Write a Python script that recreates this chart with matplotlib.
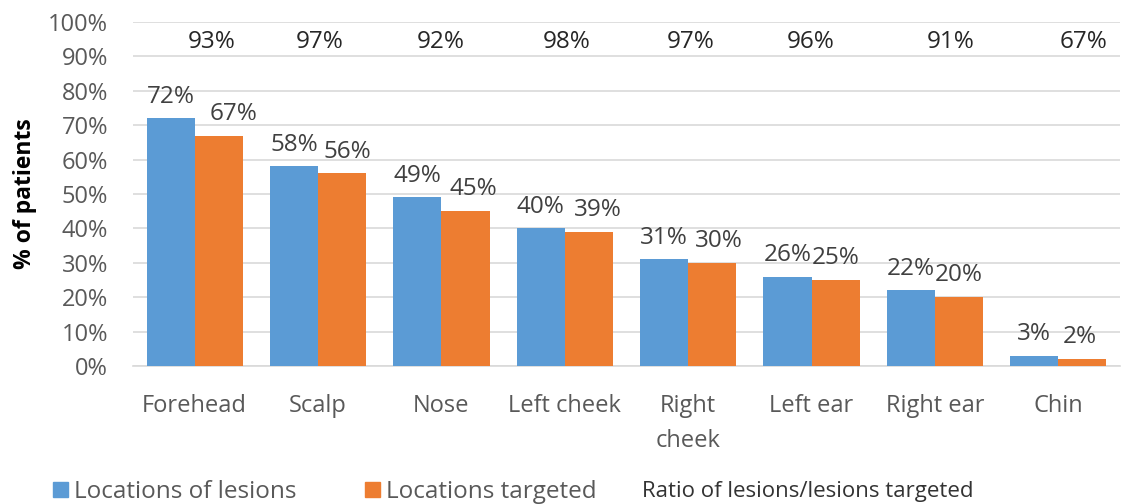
import matplotlib
matplotlib.use("Agg")
import matplotlib.pyplot as plt
import numpy as np
from matplotlib.patches import Patch

plt.rcParams['font.family'] = ['Open Sans', 'DejaVu Sans']

categories = ["Forehead", "Scalp", "Nose", "Left cheek", "Right\ncheek",
              "Left ear", "Right ear", "Chin"]
lesions = [72, 58, 49, 40, 31, 26, 22, 3]
targeted = [67, 56, 45, 39, 30, 25, 20, 2]
ratio = [93, 97, 92, 98, 97, 96, 91, 67]
yticks = [0, 10, 20, 30, 40, 50, 60, 70, 80, 90, 100]

# label nudges (pixels) as placed in the original
ratio_nudge_px = [17, 2, -1, 2, 3, -1, 16, 25]
orange_nudge_px = [15, 5, 8, 9, 7, 0, 0, -3]

BLUE = "#5B9BD5"
ORANGE = "#ED7D31"
FS = 17

fig = plt.figure(figsize=(11.23, 5.04), dpi=100)
ax = fig.add_axes([133/1123, 1 - 366/504, 987/1123, 344/504])

x = np.arange(len(categories))
w = 0.39
ax.bar(x - w/2, lesions, w, color=BLUE, zorder=3)
ax.bar(x + w/2, targeted, w, color=ORANGE, zorder=3)

px2pt = 72 / 100
for xi, v in zip(x - w/2, lesions):
    ax.annotate(f"{v}%", (xi, v), xytext=(0, 7), textcoords="offset points",
                ha="center", va="bottom", fontsize=17.5, color="#404040")
for xi, v, n in zip(x + w/2, targeted, orange_nudge_px):
    ax.annotate(f"{v}%", (xi, v), xytext=(n * px2pt, 7), textcoords="offset points",
                ha="center", va="bottom", fontsize=17.5, color="#404040")
for xi, v, n in zip(x, ratio, ratio_nudge_px):
    ax.annotate(f"{v}%", (xi, 92.4), xytext=(n * px2pt, 0), textcoords="offset points",
                ha="center", va="baseline", fontsize=17.5, color="#262626")

ax.set_xlim(-0.5, len(categories) - 0.5)
ax.set_ylim(0, 100)
ax.set_yticks(yticks)
ax.set_yticklabels([f"{t}%" for t in yticks])
ax.set_xticks(x)
ax.set_xticklabels(categories, linespacing=1.6)
ax.tick_params(axis="y", length=0, pad=18, labelsize=FS, labelcolor="#595959")
ax.tick_params(axis="x", length=0, pad=20, labelsize=FS, labelcolor="#595959")
ax.grid(axis="y", color="#d9d9d9", lw=1.2, zorder=0)
ax.set_axisbelow(True)
for s in ["top", "right", "left"]:
    ax.spines[s].set_visible(False)
ax.spines["bottom"].set_color("#d9d9d9")
ax.spines["bottom"].set_linewidth(1.2)

fig.text(25/1123, 1 - 194/504, "% of patients", rotation=90, ha="center",
         va="center", fontsize=16.5, fontweight="bold", color="#000000")

handles = [Patch(color=BLUE), Patch(color=ORANGE)]
fig.legend(handles, ["Locations of lesions", "Locations targeted"],
           loc="center left", bbox_to_anchor=(53/1123, 1 - 492/504), ncol=2,
           frameon=False, fontsize=17.5, handlelength=0.62, handleheight=0.62,
           handletextpad=0.25, columnspacing=2.8, labelcolor="#595959",
           borderpad=0, borderaxespad=0)
fig.text(642/1123, 1 - 492/504, "Ratio of lesions/lesions targeted",
         ha="left", va="center", fontsize=16, color="#333333")

fig.savefig("out.png", dpi=100)
